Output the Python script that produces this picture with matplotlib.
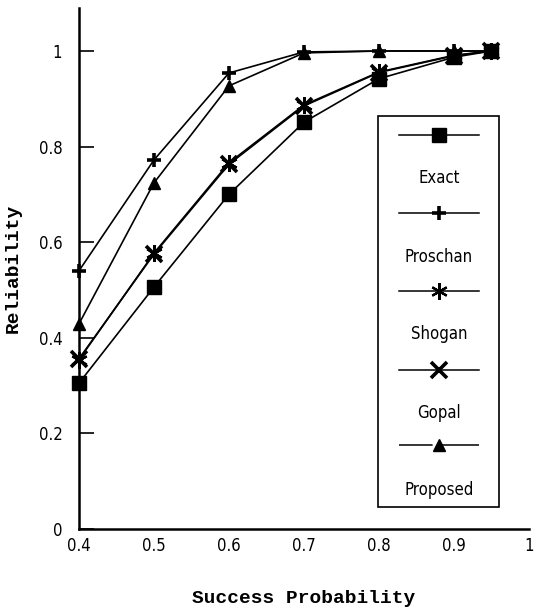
import matplotlib
matplotlib.use("Agg")
import matplotlib.pyplot as plt
from matplotlib import font_manager as fm
from matplotlib.lines import Line2D
from matplotlib.patches import Rectangle

# ---- data ----
x = [0.4, 0.5, 0.6, 0.7, 0.8, 0.9, 0.95]
exact    = [0.305, 0.506, 0.700, 0.851, 0.942, 0.987, 1.000]
proschan = [0.540, 0.772, 0.954, 0.998, 1.000, 1.000, 1.000]
shogan   = [0.354, 0.577, 0.766, 0.887, 0.956, 0.991, 1.000]
gopal    = [0.356, 0.575, 0.763, 0.885, 0.955, 0.990, 1.000]
proposed = [0.429, 0.724, 0.927, 0.996, 1.000, 1.000, 1.000]
labels = ["Exact", "Proschan", "Shogan", "Gopal", "Proposed"]
xticks = [0.4, 0.5, 0.6, 0.7, 0.8, 0.9, 1.0]
xticklabels = ["0.4", "0.5", "0.6", "0.7", "0.8", "0.9", "1"]
yticks = [0, 0.2, 0.4, 0.6, 0.8, 1.0]
yticklabels = ["0", "0.2", "0.4", "0.6", "0.8", "1"]

# fonts
names = {f.name for f in fm.fontManager.ttflist}
narrow = "Liberation Sans Narrow" if "Liberation Sans Narrow" in names else "DejaVu Sans"
tickfont = dict(family=narrow, stretch="condensed", size=12)
labfont = dict(family="Liberation Mono", weight="bold", size=14)

fig = plt.figure(figsize=(5.37, 6.13), dpi=100)
ax = fig.add_axes([0.147, 0.137, 0.838, 0.850])

series = [exact, proschan, shogan, gopal, proposed]
markers = ["s", "+", (6, 2, 0), "x", "^"]
msizes = [10, 10, 12, 11, 8]
mews = [1, 2.6, 1.6, 2.6, 1]
for ys, m, ms, mw in zip(series, markers, msizes, mews):
    ax.plot(x, ys, color="black", lw=1.2, marker=m, ms=ms, mew=mw,
            mfc="black", mec="black", clip_on=False, zorder=3)

ax.set_xlim(0.4, 1.0)
ax.set_ylim(0, 1.09)
for s in ["top", "right"]:
    ax.spines[s].set_visible(False)
for s in ["left", "bottom"]:
    ax.spines[s].set_linewidth(1.8)

ax.set_xticks(xticks)
ax.set_xticklabels(xticklabels, **tickfont)
ax.set_yticks(yticks)
ax.set_yticklabels(yticklabels, **tickfont)
ax.tick_params(axis="x", length=0, pad=6)
ax.tick_params(axis="y", direction="in", length=11, width=1.2, pad=12)

ax.set_xlabel("Success Probability", labelpad=25, **labfont)
ax.set_ylabel("Reliability", labelpad=12, **labfont)

# ---- legend (manual, label below each handle) ----
bx0, bx1, by0, by1 = 0.665, 0.933, 0.042, 0.793
ax.add_patch(Rectangle((bx0, by0), bx1 - bx0, by1 - by0, transform=ax.transAxes,
                       fill=False, lw=1.2, ec="black", zorder=5, clip_on=False))
handle_y = [0.757, 0.607, 0.457, 0.306, 0.161]
label_y = [0.674, 0.523, 0.375, 0.223, 0.075]
hx0, hx1, hxm = 0.712, 0.890, 0.800
for i, (lab, m, ms, mw) in enumerate(zip(labels, markers, msizes, mews)):
    ls = (0, (22, 3, 40, 5, 2)) if lab == "Proposed" else "-"
    ax.add_line(Line2D([hx0, hx1], [handle_y[i]] * 2, transform=ax.transAxes,
                       color="black", lw=1.1, ls=ls, clip_on=False, zorder=6))
    ax.add_line(Line2D([hxm], [handle_y[i]], transform=ax.transAxes, color="black",
                       marker=m, ms=ms, mew=mw, mfc="black", mec="black",
                       clip_on=False, zorder=6))
    ax.text(hxm, label_y[i], lab, transform=ax.transAxes, ha="center", va="center",
            **tickfont)

fig.savefig("out.png", dpi=100)
